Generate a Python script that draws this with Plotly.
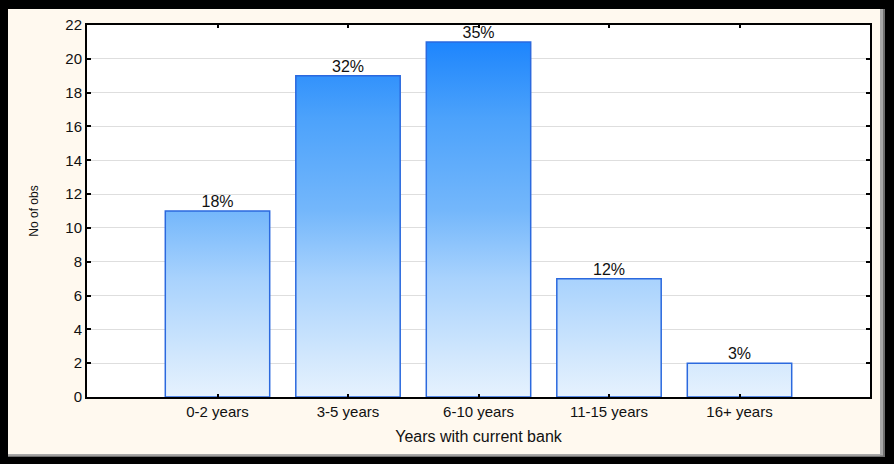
import plotly.graph_objects as go

# Survey: how long respondents have banked with their current bank
categories = ["0-2 years", "3-5 years", "6-10 years", "11-15 years", "16+ years"]
counts = [11, 19, 21, 7, 2]
y_ticks = list(range(0, 23, 2))

total = sum(counts)
percent_labels = [f"{round(c / total * 100)}%" for c in counts]

FONT = "Liberation Sans, Arial, sans-serif"
W, H = 894, 464
ML, MR, MT, MB = 87, 24, 25, 67
PW, PH = W - ML - MR, H - MT - MB
Y_MAX = 22
HALF = 0.4  # half bar width in category units

# vertical blue gradient shared by all bars (light at 0, deep blue at the top)
gradient = [
    [0.00, "#E6F2FE"],
    [0.10, "#D3E8FD"],
    [0.32, "#A8D2FD"],
    [0.50, "#74B7FB"],
    [0.75, "#4CA2FB"],
    [0.90, "#2A8DFC"],
    [1.00, "#137EFF"],
]

fig = go.Figure()

for i, c in enumerate(counts):
    fig.add_trace(go.Scatter(
        x=[i - HALF, i + HALF, i + HALF, i - HALF, i - HALF],
        y=[0, 0, c, c, 0],
        mode="lines",
        fill="toself",
        fillgradient=dict(type="vertical", colorscale=gradient, start=0, stop=Y_MAX),
        line=dict(color="#2B69DE", width=1.5),
        hoverinfo="skip",
        showlegend=False,
    ))

# percentage labels above each bar
fig.add_trace(go.Scatter(
    x=list(range(len(counts))),
    y=counts,
    mode="text",
    text=percent_labels,
    textposition="top center",
    textfont=dict(family=FONT, size=16, color="#111111"),
    hoverinfo="skip",
    showlegend=False,
))


def px_x(p):
    return (p - ML) / PW


def px_y(p):
    return (H - MB - p) / PH


def frame_rect(x0, y0, x1, y1, color):
    return dict(type="rect", xref="paper", yref="paper",
                x0=px_x(x0), x1=px_x(x1), y0=px_y(y1), y1=px_y(y0),
                fillcolor=color, line=dict(width=0), layer="above")


shapes = [
    # dark outer frame
    frame_rect(0, 0, 8, H, "#000000"),
    frame_rect(0, 0, W, 9, "#000000"),
    frame_rect(885, 0, W, H, "#000000"),
    frame_rect(0, 457, W, H, "#000000"),
    # grey drop shadow along right and bottom edges
    frame_rect(880, 9, 883, 457, "#A9A9A9"),
    frame_rect(883, 9, 885, 457, "#6F6F6F"),
    frame_rect(8, 454, 883, 455.5, "#A9A9A9"),
    frame_rect(8, 455.5, 885, 457, "#6F6F6F"),
]

fig.update_layout(
    width=W, height=H,
    margin=dict(l=ML, r=MR, t=MT, b=MB, pad=0),
    paper_bgcolor="#FFF9EF",
    plot_bgcolor="#FFFFFF",
    font=dict(family=FONT, color="#111111"),
    showlegend=False,
    shapes=shapes,
    xaxis=dict(
        range=[-1, len(counts)],
        tickvals=list(range(len(counts))),
        ticktext=categories,
        tickfont=dict(size=15, color="#111111"),
        ticks="inside", ticklen=3, tickwidth=2, tickcolor="#000000",
        showline=True, linecolor="#000000", linewidth=2, mirror="ticks",
        showgrid=False, zeroline=False,
        title=dict(text="Years with current bank",
                   font=dict(size=16, color="#111111"), standoff=12),
        fixedrange=True,
    ),
    yaxis=dict(
        range=[0, Y_MAX],
        tickvals=y_ticks,
        tickfont=dict(size=15, color="#111111"),
        ticks="inside", ticklen=4, tickwidth=2, tickcolor="#000000",
        showline=True, linecolor="#000000", linewidth=2, mirror="ticks",
        showgrid=True, gridcolor="#DEDEDE", gridwidth=1,
        zeroline=False,
        title=dict(text="No of obs", font=dict(size=12, color="#111111"), standoff=24),
        fixedrange=True,
    ),
)

fig.write_html("out.html", config={"displayModeBar": False})
